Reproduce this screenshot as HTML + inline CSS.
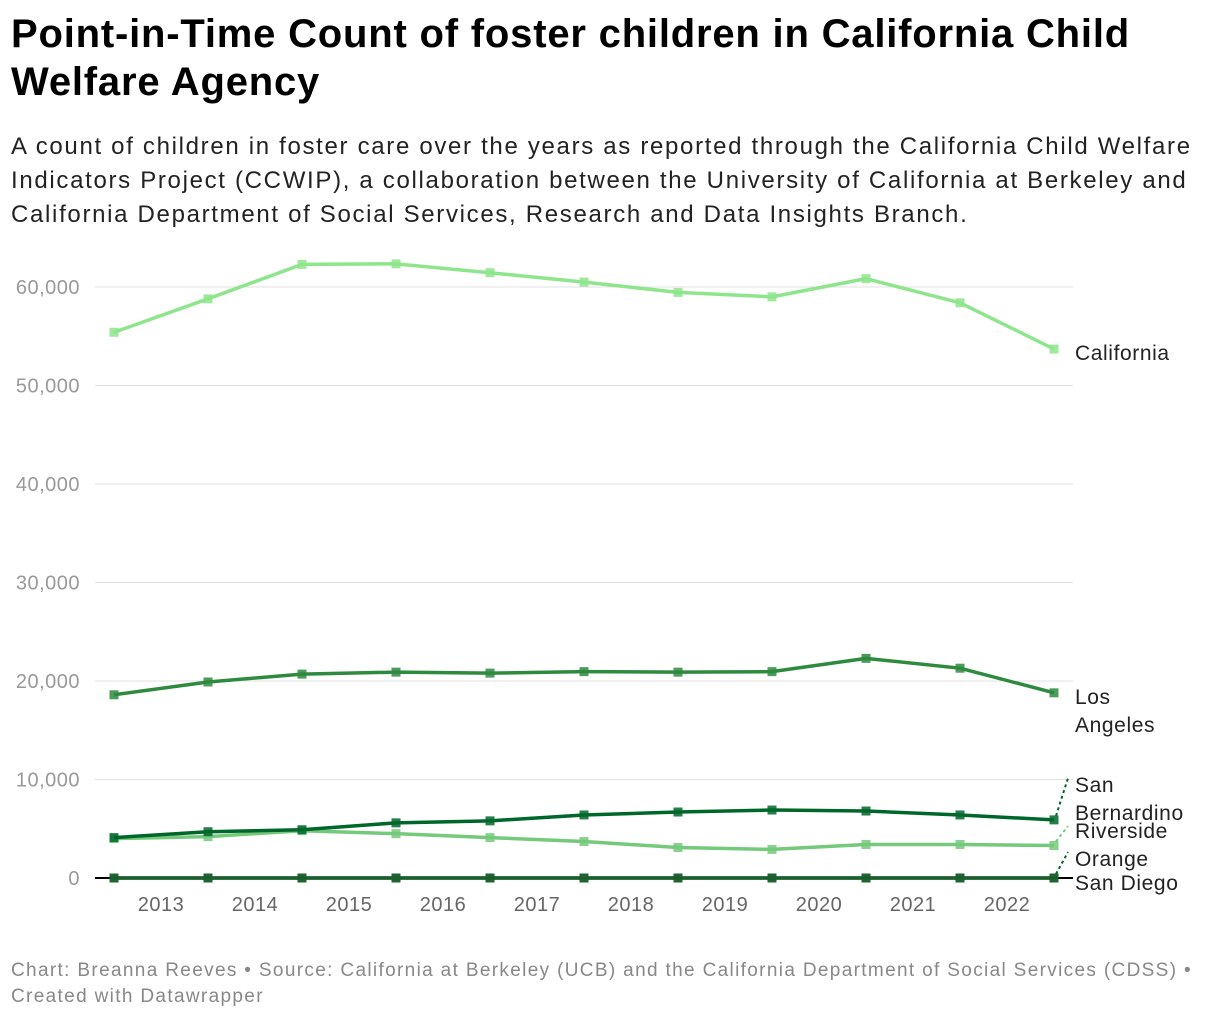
<!DOCTYPE html>
<html><head><meta charset="utf-8"><style>
body{margin:0;background:#fff;font-family:"Liberation Sans",sans-serif;width:1220px;height:1020px;overflow:hidden;position:relative}
h1{position:absolute;left:11px;top:10px;margin:0;font-size:40px;line-height:48px;font-weight:bold;color:#000;letter-spacing:0.8px;white-space:nowrap}
.sub{position:absolute;left:11px;top:130px;font-size:24px;line-height:34px;color:#222;letter-spacing:1.68px;white-space:nowrap}
.foot{position:absolute;left:11px;top:958px;font-size:19px;line-height:26px;color:#888;letter-spacing:1.34px;white-space:nowrap}
svg{position:absolute;left:0;top:0}
</style></head><body>
<h1>Point-in-Time Count of foster children in California Child<br>Welfare Agency</h1>
<div class="sub">A count of children in foster care over the years as reported through the California Child Welfare<br>Indicators Project (CCWIP), a collaboration between the University of California at Berkeley and<br>California Department of Social Services, Research and Data Insights Branch.</div>
<svg id="chart" width="1220" height="1020"></svg>
<div class="foot">Chart: Breanna Reeves • Source: California at Berkeley (UCB) and the California Department of Social Services (CDSS) •<br>Created with Datawrapper</div>
<script>
const yearLabels=["2013","2014","2015","2016","2017","2018","2019","2020","2021","2022"];
const yTicks=[0,10000,20000,30000,40000,50000,60000];
const california=[55400,58800,62300,62350,61450,60500,59450,59000,60850,58400,53700];
const losAngeles=[18600,19900,20700,20900,20800,20950,20900,20950,22300,21300,18800];
const sanBernardino=[4100,4700,4900,5600,5800,6400,6700,6900,6800,6400,5900];
const riverside=[4000,4200,4800,4500,4100,3700,3100,2900,3400,3400,3300];
const orange=[0,0,0,0,0,0,0,0,0,0,0];
const sanDiego=[0,0,0,0,0,0,0,0,0,0,0];
const NS="http://www.w3.org/2000/svg";
const svg=document.getElementById('chart');
const x=i=>114+94*i;
const y=v=>878-v*(591/60000);
function mk(t,a,p){const e=document.createElementNS(NS,t);for(const k in a)e.setAttribute(k,a[k]);(p||svg).appendChild(e);return e;}
yTicks.forEach(t=>{
  const g=mk('line',{x1:95,x2:1073,y1:y(t),y2:y(t),stroke:t===0?'#000':'#e0e0e0','stroke-width':t===0?2:1});
  
  
  const l=mk('text',{x:80,y:y(t)+7,'text-anchor':'end','font-size':20,fill:'#999','letter-spacing':'0.5'});
  l.textContent=t.toLocaleString('en-US');
  
  
});
yearLabels.forEach((yr,i)=>{
  const l=mk('text',{x:x(i)+47,y:911,'text-anchor':'middle','font-size':20,fill:'#666','letter-spacing':'0.5'});
  l.textContent=yr;
  
  
});
const series=[
 {d:california,c:'#8ee58c',n:'california'},
 {d:losAngeles,c:'#2e8b3e',n:'los-angeles'},
 {d:riverside,c:'#74c97a',n:'riverside'},
 {d:sanBernardino,c:'#00672a',n:'san-bernardino'},
 {d:orange,c:'#1f6d33',n:'orange'},
 {d:sanDiego,c:'#1a5e2c',n:'san-diego'}];
series.forEach(s=>{
  const p=mk('polyline',{points:s.d.map((v,i)=>x(i)+','+y(v)).join(' '),fill:'none',stroke:s.c,'stroke-width':3.5,'stroke-linejoin':'round'});
  
  
  s.d.forEach((v,i)=>{
    const r=mk('rect',{x:x(i)-4.5,y:y(v)-4.5,width:9,height:9,fill:s.c,opacity:0.85});
    
    
  });
});
const labels=[
 {t:['California'],y:360},
 {t:['Los','Angeles'],y:704},
 {t:['San','Bernardino'],y:792},
 {t:['Riverside'],y:838},
 {t:['Orange'],y:866},
 {t:['San Diego'],y:890}];
labels.forEach(L=>{
  const e=mk('text',{x:1075,y:L.y,'font-size':21,fill:'#222','letter-spacing':'0.6'});
  L.t.forEach((s,k)=>{const ts=mk('tspan',{x:1075,dy:k?28:0},e);ts.textContent=s;});
  
  
});
[[y(sanBernardino[10]),778,'#00672a'],[y(riverside[10]),826,'#74c97a'],[y(orange[10]),852,'#00672a']].forEach(a=>{
  const l=mk('line',{x1:1056,y1:a[0]-4,x2:1068,y2:a[1],stroke:a[2],'stroke-width':2,'stroke-dasharray':'3,3'});
  
  
});
</script>
</body></html>
